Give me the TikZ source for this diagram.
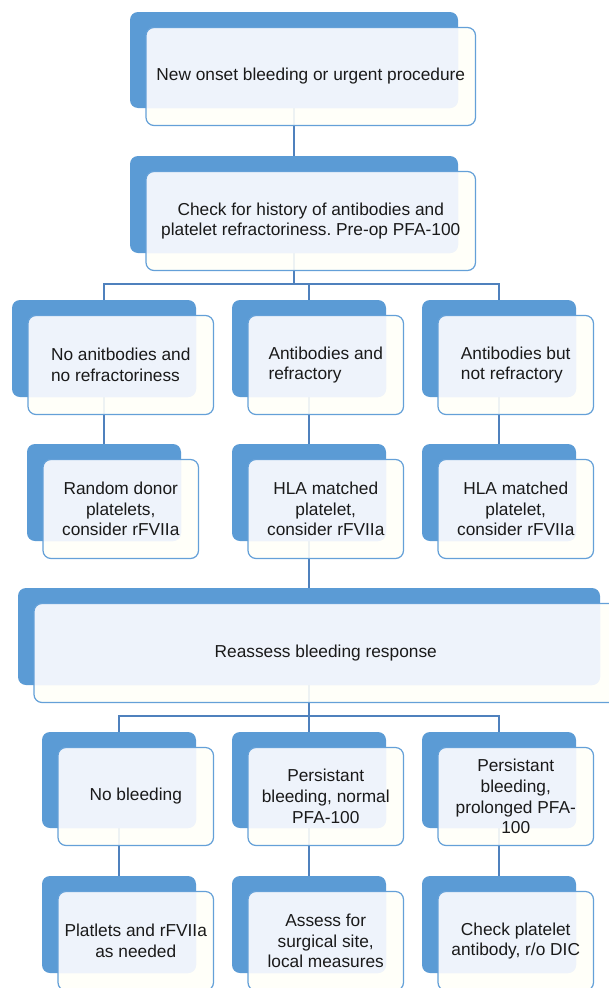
\documentclass[tikz,border=0pt]{standalone}
\usepackage{fontspec}
\setmainfont{Liberation Sans}
\frenchspacing
\pgfdeclarelayer{background}
\pgfsetlayers{background,main}
\definecolor{backblue}{RGB}{91,155,213}
\definecolor{frontline}{RGB}{100,160,216}
\definecolor{connblue}{RGB}{79,129,189}
\definecolor{creamfill}{RGB}{255,255,249}
\definecolor{overlapblue}{RGB}{238,243,251}
\definecolor{textcol}{RGB}{26,26,26}
\tikzset{
  backbox/.style={fill=backblue, draw=none, rounded corners=8pt, inner sep=0pt, outer sep=0pt},
  frontbox/.style={fill=creamfill, fill opacity=0.9, draw=none, rounded corners=8pt, inner sep=0pt, outer sep=0pt},
  frontedge/.style={draw=frontline, line width=1.2pt, rounded corners=8pt},
  boxtext/.style={font=\fontsize{17.3}{20.7}\selectfont, text=textcol, inner sep=0pt},
  conn/.style={draw=connblue, line width=1.6pt},
}
\newcommand\flowbox[7]{%
  \pgfmathsetmacro\fbw{#4-#2}%
  \pgfmathsetmacro\fbh{#5-#3}%
  \pgfmathsetmacro\fbcx{(#2+#4)/2}%
  \pgfmathsetmacro\fbcy{(#3+#5)/2}%
  \pgfmathsetmacro\ffw{\fbw+1.5}%
  \pgfmathsetmacro\ffh{\fbh+2}%
  \pgfmathsetmacro\ffcx{\fbcx+16.75}%
  \pgfmathsetmacro\ffcy{\fbcy+16.5}%
  \node[backbox, minimum width=\fbw pt, minimum height=\fbh pt] (#1-b) at (\fbcx,\fbcy) {};
  \node[frontbox, minimum width=\ffw pt, minimum height=\ffh pt] (#1-f) at (\ffcx,\ffcy) {};
  \begin{scope}
    \clip[rounded corners=8pt] (#1-b.north west) rectangle (#1-b.south east);
    \fill[overlapblue, rounded corners=8pt] (#1-f.north west) rectangle (#1-f.south east);
  \end{scope}
  \draw[frontedge] (#1-f.north west) rectangle (#1-f.south east);
  \node[boxtext, #6] (#1) at (#1-f.center) {#7};
}
\begin{document}
\begin{tikzpicture}[x=1pt, y=-1pt]
\useasboundingbox (0,0) rectangle (609,988);
\clip (0,0) rectangle (609,988);

\flowbox{b1}{130}{12}{458}{108}{align=center}{New onset bleeding or urgent procedure}
\flowbox{b2}{130}{156}{458}{253}{align=center}{Check for history of antibodies and\\platelet refractoriness. Pre-op PFA-100}
\flowbox{r3a}{12}{300}{196}{397}{align=left}{No anitbodies and\\no refractoriness}
\flowbox{r3b}{232}{300}{386}{397}{align=left}{Antibodies and\\refractory}
\flowbox{r3c}{422}{300}{576}{397}{align=left}{Antibodies but\\not refractory}
\flowbox{r4a}{27}{444}{181}{541}{align=center}{Random donor\\platelets,\\consider rFVIIa}
\flowbox{r4b}{232}{444}{386}{541}{align=center}{HLA matched\\platelet,\\consider rFVIIa}
\flowbox{r4c}{422}{444}{576}{541}{align=center}{HLA matched\\platelet,\\consider rFVIIa}
\flowbox{b5}{18}{588}{600}{685}{align=center}{Reassess bleeding response}
\flowbox{r6a}{42}{732}{196}{828}{align=center}{No bleeding}
\flowbox{r6b}{232}{732}{386}{828}{align=center}{Persistant\\bleeding, normal\\PFA-100}
\flowbox{r6c}{422}{732}{576}{828}{align=center}{Persistant\\bleeding,\\prolonged PFA-\\100}
\flowbox{r7a}{42}{876}{196}{973}{align=center}{Platlets and rFVIIa\\as needed}
\flowbox{r7b}{232}{876}{386}{973}{align=center}{Assess for\\surgical site,\\local measures}
\flowbox{r7c}{422}{876}{576}{973}{align=center}{Check platelet\\antibody, r/o DIC}

\begin{pgfonlayer}{background}
  \fill[white] (0,0) rectangle (609,988);
  \coordinate (bus1) at (294,284);
  \coordinate (bus2) at (309,716);
  \draw[conn] (b1-b.south) -- (b2-b.north);
  \draw[conn] (b2-b.south) -- (bus1);
  \draw[conn] (r3a-b.north) |- (bus1) -| (r3c-b.north);
  \draw[conn] (r3b-b.north) |- (bus1);
  \draw[conn] (r3a-b.south) -- (r4a-b.north);
  \draw[conn] (r3b-b.south) -- (r4b-b.north);
  \draw[conn] (r3c-b.south) -- (r4c-b.north);
  \draw[conn] (r4b-b.south) -- (b5-b.north);
  \draw[conn] (b5-b.south) -- (bus2);
  \draw[conn] (r6a-b.north) |- (bus2) -| (r6c-b.north);
  \draw[conn] (r6b-b.north) -- (bus2);
  \draw[conn] (r6a-b.south) -- (r7a-b.north);
  \draw[conn] (r6b-b.south) -- (r7b-b.north);
  \draw[conn] (r6c-b.south) -- (r7c-b.north);
\end{pgfonlayer}
\end{tikzpicture}
\end{document}
